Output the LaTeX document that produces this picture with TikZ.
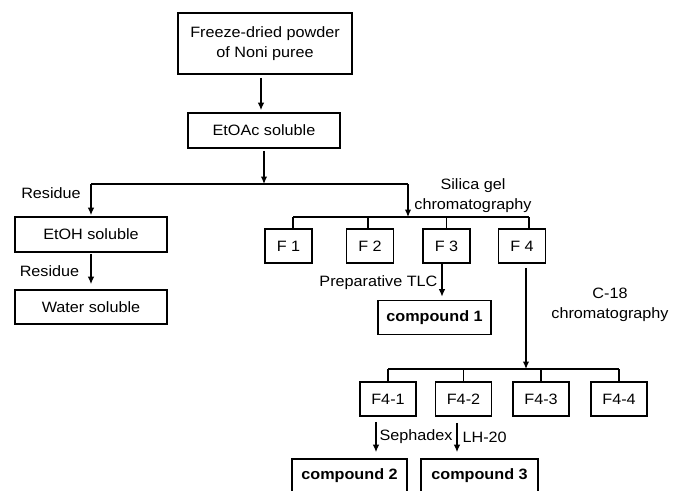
\documentclass[tikz,border=0pt]{standalone}
\usepackage{fontspec}
\setmainfont[FakeStretch=1.08]{Liberation Sans}
\usetikzlibrary{arrows.meta}

\begin{document}
\begin{tikzpicture}[x=1pt, y=-1pt, font=\fontsize{15}{20}\selectfont, line width=1.2pt,
    box/.style={draw, line width=1.7pt, inner sep=0pt, minimum height=34pt},
    arr/.style={-{Latex[length=7.5pt,width=6.5pt]}},
    lbl/.style={inner sep=0pt}]
  \useasboundingbox (0,0) rectangle (674,490);
  % boxes
  \node[box, minimum width=174pt, minimum height=61pt, align=center] (noni) at (265,43.5)
    {Freeze-dried powder\\of Noni puree};
  \node[box, minimum width=152pt, minimum height=35pt] (etoac) at (264,130.5) {EtOAc soluble};
  \node[box, minimum width=152pt, minimum height=35pt] (etoh) at (91,234.5) {EtOH soluble};
  \node[box, minimum width=152pt] (water) at (91,307) {Water soluble};
  \foreach \n/\x in {1/288.5,2/370,3/446.5,4/522}
    \node[box, minimum width=47pt] (f\n) at (\x,246) {F \n};
  \node[box, minimum width=113pt] (c1) at (434.5,317.5) {\textbf{compound 1}};
  \foreach \n/\x in {1/388,2/463.5,3/541,4/619}
    \node[box, minimum width=56pt] (f4\n) at (\x,399) {F4-\n};
  \node[box, minimum width=115pt] (c2) at (349.5,476) {\textbf{compound 2}};
  \node[box, minimum width=117pt] (c3) at (479.5,476) {\textbf{compound 3}};
  % labels
  \node[lbl] (res1) at (51,193) {Residue};
  \node[lbl] (res2) at (49.5,271) {Residue};
  \node[lbl, align=center] (silica) at (473,196) {Silica gel\\chromatography};
  \node[lbl, anchor=east] (tlc) at (438,283) {Preparative TLC};
  \node[lbl, align=center] (c18) at (610,305) {C-18\\chromatography};
  \node[lbl, anchor=west] (seph) at (379,437) {Sephadex};
  \node[lbl, anchor=west] (lh) at (462,437) {LH-20};
  % connectors
  \coordinate (sy) at (0,184);
  \coordinate (fl) at (408,217);
  \coordinate (gl) at (526,369);
  \coordinate (n1) at ([xshift=-4pt]noni.south);
  \draw[arr, shorten <=3pt, shorten >=2pt] (n1) -- (n1 |- etoac.north);
  \draw[arr, shorten <=2pt] (etoac.south) -- (etoac.south |- sy);
  \draw (etoh.north |- sy) -- (fl |- sy);
  \draw[arr, shorten >=1pt] (etoh.north |- sy) -- (etoh.north);
  \draw[arr] (fl |- sy) -- (fl);
  \foreach \n/\d in {1/4.5,2/-2,3/0,4/7}
    \draw ([xshift=\d pt]f\n.north) -- ([xshift=\d pt]f\n.north |- fl);
  \draw ([xshift=4.5pt]f1.north |- fl) -- ([xshift=7pt]f4.north |- fl);
  \draw[arr, shorten <=1pt, shorten >=5pt] (etoh.south) -- (etoh.south |- water.north);
  \coordinate (f3s) at ([xshift=-4.5pt]f3.south);
  \draw[arr, shorten >=3pt] (f3s) -- (f3s |- c1.north);
  \coordinate (f4s) at ([xshift=4pt]f4.south);
  \draw[arr, shorten <=4pt] (f4s) -- (f4s |- gl);
  \draw (f41.north |- gl) -- (f44.north |- gl);
  \foreach \n in {1,...,4}
    \draw (f4\n.north) -- (f4\n.north |- gl);
  \coordinate (s1) at ([xshift=-12pt]f41.south);
  \coordinate (s2) at ([xshift=-6.5pt]f42.south);
  \draw[arr, shorten <=5pt, shorten >=6pt] (s1) -- (s1 |- c2.north);
  \draw[arr, shorten <=6pt, shorten >=6pt] (s2) -- (s2 |- c3.north);
\end{tikzpicture}
\end{document}
